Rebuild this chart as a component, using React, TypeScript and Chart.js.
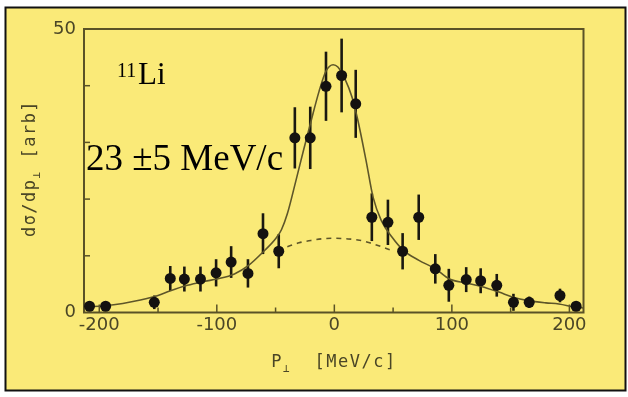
import React, { useEffect, useRef } from "react";
import { Chart, registerables } from "chart.js";

Chart.register(...registerables);

// ---- data ----
const P_PERP = [-208.3, -194.6, -153.2, -139.6, -127.6, -113.9, -100.6, -87.8, -73.5, -60.7, -47.3, -33.6, -20.5, -7.1, 6.2, 18.2, 31.9, 45.6, 58.1, 71.8, 85.9, 97.4, 112.2, 124.5, 138.2, 152.4, 165.8, 192.0, 205.7];
const DSIGMA = [1.1, 1.1, 1.8, 6.0, 5.9, 5.9, 7.0, 8.9, 6.9, 13.9, 10.8, 30.8, 30.8, 39.9, 41.8, 36.8, 16.8, 15.9, 10.8, 16.8, 7.7, 4.8, 5.8, 5.6, 4.8, 1.8, 1.8, 3.0, 1.1];
const ERR = [0.8, 0.8, 1.2, 2.2, 2.2, 2.2, 2.4, 2.8, 2.5, 3.6, 3.0, 5.4, 5.5, 6.1, 6.5, 6.0, 4.2, 4.0, 3.2, 4.0, 2.6, 2.9, 2.2, 2.2, 2.0, 1.5, 1.0, 1.2, 0.8];

const FIT_X = [-212, -195, -180, -165, -150, -140, -125, -110, -100, -85, -73, -60, -50, -45, -40, -33, -26, -20, -13, -7, -1, 3, 9, 15, 20, 27, 33, 40, 49, 59, 72, 86, 98, 112, 125, 140, 152, 165, 180, 191, 206, 212];
const FIT_Y = [1.0, 1.2, 1.6, 2.2, 3.0, 3.8, 4.8, 5.5, 5.9, 6.8, 8.3, 10.8, 13.0, 14.6, 17.4, 23.0, 28.8, 33.6, 39.0, 42.6, 43.7, 43.3, 41.2, 38.0, 33.9, 26.8, 20.3, 16.2, 13.3, 10.9, 9.2, 7.7, 5.9, 5.2, 4.6, 3.6, 2.7, 2.1, 1.7, 1.5, 0.9, 0.8];

const BROAD_X = [-48, -40, -30, -20, -10, 0, 10, 20, 30, 40, 48];
const BROAD_Y = [11.0, 11.6, 12.3, 12.7, 13.0, 13.1, 13.0, 12.8, 12.3, 11.6, 11.0];

const X_TICKS = [-200, -150, -100, -50, 0, 50, 100, 150, 200];
const X_LABELS = [-200, -100, 0, 100, 200];
const Y_TICKS = [0, 10, 20, 30, 40, 50];
const Y_LABELS = [0, 50];

const X_MIN = -213;
const X_MAX = 212;
const Y_MIN = 0;
const Y_MAX = 50;

const Y_TITLE = ["dσ/dp", "⊥", " [arb]"];
const X_TITLE = ["P", "⊥", "  [MeV/c]"];
const NUCLEUS_MASS = "11";
const NUCLEUS = "Li";
const WIDTH_TEXT = "23 ±5 MeV/c";

// ---- style ----
const W = 628;
const H = 397;
const YELLOW = "#FAEA78";
const OLIVE = "#5A5226";
const LABEL = "#4A4626";
const CURVE = "#5E5629";

const decor = {
  id: "decor",
  beforeDraw(chart: any) {
    const ctx = chart.ctx;
    ctx.save();
    ctx.fillStyle = "#ffffff";
    ctx.fillRect(0, 0, W, H);
    ctx.fillStyle = YELLOW;
    ctx.fillRect(5, 7, 621, 384);
    ctx.strokeStyle = "#111";
    ctx.lineWidth = 2;
    ctx.strokeRect(5.5, 7.5, 620, 383);
    ctx.restore();
  },
  beforeDatasetsDraw(chart: any) {
    const ctx = chart.ctx;
    const a = chart.chartArea;
    const xs = chart.scales.x;
    const ys = chart.scales.y;
    ctx.save();
    // frame
    ctx.strokeStyle = OLIVE;
    ctx.lineWidth = 2;
    ctx.strokeRect(a.left, a.top, a.right - a.left, a.bottom - a.top);
    // inward ticks
    ctx.lineWidth = 1.5;
    xs.ticks.forEach((t: any) => {
      const px = xs.getPixelForValue(t.value);
      const len = X_LABELS.includes(t.value) ? 8 : 5;
      ctx.beginPath();
      ctx.moveTo(px, a.bottom);
      ctx.lineTo(px, a.bottom - len);
      ctx.stroke();
    });
    ys.ticks.forEach((t: any) => {
      if (t.value <= Y_MIN || t.value >= Y_MAX) return;
      const py = ys.getPixelForValue(t.value);
      ctx.beginPath();
      ctx.moveTo(a.left, py);
      ctx.lineTo(a.left + 6, py);
      ctx.stroke();
    });
    // error bars
    ctx.strokeStyle = "#1a1810";
    ctx.lineWidth = 2.6;
    P_PERP.forEach((x, i) => {
      const px = xs.getPixelForValue(x);
      const y0 = ys.getPixelForValue(DSIGMA[i] - ERR[i]);
      const y1 = ys.getPixelForValue(DSIGMA[i] + ERR[i]);
      ctx.beginPath();
      ctx.moveTo(px, y0);
      ctx.lineTo(px, y1);
      ctx.stroke();
    });
    ctx.restore();
  },
  afterDraw(chart: any) {
    const ctx = chart.ctx;
    ctx.save();
    // annotations
    ctx.fillStyle = "#000";
    ctx.textBaseline = "alphabetic";
    ctx.textAlign = "left";
    ctx.font = '20px "Liberation Serif"';
    ctx.fillText(NUCLEUS_MASS, 117, 76.5);
    ctx.font = '31px "Liberation Serif"';
    ctx.fillText(NUCLEUS, 138, 84);
    ctx.font = '37px "Liberation Serif"';
    ctx.fillText(WIDTH_TEXT, 86, 169.5);

    // axis titles
    const drawParts = (parts: string[], cx: number, baseline: number) => {
      const big = '17px "DejaVu Sans Mono"';
      const small = '11px "DejaVu Sans Mono"';
      (ctx as any).letterSpacing = "1.5px";
      const widths = parts.map((p, i) => {
        ctx.font = i === 1 ? small : big;
        return ctx.measureText(p).width;
      });
      const total = widths.reduce((s, w) => s + w, 0);
      let x = cx - total / 2;
      parts.forEach((p, i) => {
        ctx.font = i === 1 ? small : big;
        ctx.fillText(p, x, baseline + (i === 1 ? 5 : 0));
        x += widths[i];
      });
      (ctx as any).letterSpacing = "0px";
    };
    ctx.fillStyle = LABEL;
    drawParts(X_TITLE, 334, 366.5);
    ctx.save();
    ctx.translate(35, 168.5);
    ctx.rotate(-Math.PI / 2);
    drawParts(Y_TITLE, 0, 0);
    ctx.restore();
    ctx.restore();
  },
};

export default function App() {
  const ref = useRef<HTMLCanvasElement | null>(null);

  useEffect(() => {
    if (!ref.current) return;
    const chart = new Chart(ref.current, {
      type: "scatter",
      data: {
        datasets: [
          {
            label: "data",
            data: P_PERP.map((x, i) => ({ x, y: DSIGMA[i] })),
            showLine: false,
            pointRadius: 5.5,
            pointHoverRadius: 5.5,
            backgroundColor: "#141210",
            borderColor: "#141210",
            borderWidth: 0,
            order: 0,
          },
          {
            label: "fit",
            data: FIT_X.map((x, i) => ({ x, y: FIT_Y[i] })),
            showLine: true,
            pointRadius: 0,
            borderColor: CURVE,
            borderWidth: 1.6,
            cubicInterpolationMode: "monotone",
            order: 1,
          },
          {
            label: "broad",
            data: BROAD_X.map((x, i) => ({ x, y: BROAD_Y[i] })),
            showLine: true,
            pointRadius: 0,
            borderColor: CURVE,
            borderWidth: 1.6,
            borderDash: [5, 5],
            cubicInterpolationMode: "monotone",
            order: 2,
          },
        ],
      },
      options: {
        responsive: false,
        animation: false,
        devicePixelRatio: 1,
        layout: { padding: { left: 0, top: 29, right: 44.5, bottom: 0 } },
        plugins: { legend: { display: false }, tooltip: { enabled: false } },
        scales: {
          x: {
            type: "linear",
            min: X_MIN,
            max: X_MAX,
            afterBuildTicks: (s: any) => {
              s.ticks = X_TICKS.map((value) => ({ value }));
            },
            afterFit: (s: any) => {
              s.height = 84.5;
            },
            grid: { display: false, drawTicks: false },
            border: { display: false },
            ticks: {
              autoSkip: false,
              maxRotation: 0,
              padding: 2,
              color: LABEL,
              font: { family: "DejaVu Sans", size: 18 },
              callback: (v: any) => (X_LABELS.includes(v) ? String(v) : ""),
            },
          },
          y: {
            type: "linear",
            min: Y_MIN,
            max: Y_MAX,
            afterBuildTicks: (s: any) => {
              s.ticks = Y_TICKS.map((value) => ({ value }));
            },
            afterFit: (s: any) => {
              s.width = 84;
            },
            grid: { display: false, drawTicks: false },
            border: { display: false },
            ticks: {
              autoSkip: false,
              padding: 8,
              color: LABEL,
              font: { family: "DejaVu Sans", size: 18 },
              callback: (v: any) => (Y_LABELS.includes(v) ? String(v) : ""),
            },
          },
        },
      },
      plugins: [decor],
    });
    return () => chart.destroy();
  }, []);

  return (
    <div style={{ position: "fixed", left: 0, top: 0, width: W, height: H }}>
      <canvas ref={ref} width={W} height={H} style={{ display: "block" }} />
    </div>
  );
}
